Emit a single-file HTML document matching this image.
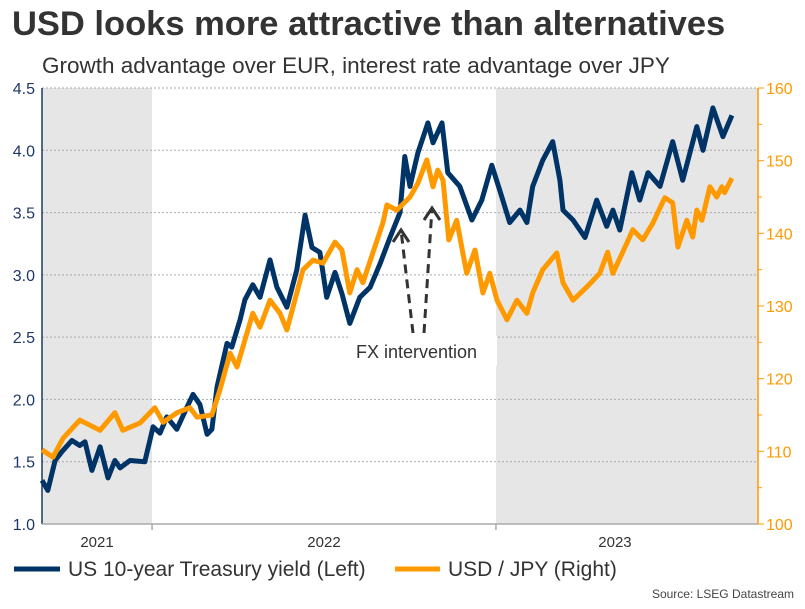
<!DOCTYPE html>
<html><head><meta charset="utf-8"><style>
body{margin:0;background:#fff;font-family:"Liberation Sans",Arial,sans-serif}
svg text{font-family:"Liberation Sans",Arial,sans-serif}
</style></head><body>
<svg id="c" width="805" height="604" xmlns="http://www.w3.org/2000/svg">
<text x="12" y="35" font-size="34.5" font-weight="bold" fill="#333">USD looks more attractive than alternatives</text>
<text x="42" y="73" font-size="22.5" fill="#333">Growth advantage over EUR, interest rate advantage over JPY</text>
<g id="bg"></g><g id="grid"></g><g id="axes"></g><g id="lines"></g><g id="anno"></g>
<g>
<line x1="14" y1="569" x2="60" y2="569" stroke="#003366" stroke-width="5"/>
<text x="68" y="576" font-size="21" fill="#333">US 10-year Treasury yield (Left)</text>
<line x1="395" y1="569" x2="440" y2="569" stroke="#ff9900" stroke-width="5"/>
<text x="448" y="576" font-size="21" fill="#333">USD / JPY (Right)</text>
</g>
<text x="794" y="598" font-size="12" fill="#444" text-anchor="end">Source: LSEG Datastream</text>
</svg>
<script>
const yieldDates=[2021.680,2021.697,2021.718,2021.738,2021.767,2021.790,2021.805,2021.825,2021.849,2021.872,2021.892,2021.907,2021.936,2021.979,2022.003,2022.023,2022.043,2022.072,2022.102,2022.119,2022.139,2022.160,2022.174,2022.189,2022.218,2022.232,2022.256,2022.270,2022.293,2022.314,2022.343,2022.363,2022.392,2022.421,2022.445,2022.465,2022.488,2022.508,2022.532,2022.552,2022.575,2022.604,2022.634,2022.663,2022.692,2022.721,2022.735,2022.750,2022.773,2022.802,2022.817,2022.843,2022.860,2022.895,2022.930,2022.959,2022.988,2023.011,2023.040,2023.070,2023.090,2023.107,2023.136,2023.165,2023.186,2023.195,2023.224,2023.259,2023.293,2023.322,2023.340,2023.360,2023.395,2023.418,2023.442,2023.477,2023.514,2023.543,2023.584,2023.602,2023.631,2023.660,2023.686];
const yieldValues=[1.35,1.27,1.51,1.58,1.67,1.63,1.66,1.43,1.62,1.37,1.51,1.45,1.51,1.50,1.78,1.73,1.86,1.76,1.94,2.04,1.96,1.72,1.76,2.10,2.45,2.42,2.64,2.80,2.92,2.82,3.12,2.90,2.74,3.04,3.48,3.22,3.18,2.82,3.02,2.85,2.61,2.82,2.90,3.09,3.30,3.50,3.95,3.71,3.98,4.22,4.06,4.22,3.82,3.71,3.44,3.60,3.88,3.68,3.42,3.52,3.42,3.71,3.92,4.07,3.76,3.52,3.44,3.30,3.60,3.39,3.52,3.36,3.82,3.60,3.82,3.71,4.07,3.76,4.19,4.00,4.34,4.11,4.28];
const jpyDates=[2021.680,2021.712,2021.741,2021.790,2021.849,2021.892,2021.915,2021.965,2022.008,2022.032,2022.072,2022.110,2022.131,2022.174,2022.197,2022.227,2022.247,2022.276,2022.293,2022.314,2022.343,2022.372,2022.392,2022.421,2022.439,2022.468,2022.497,2022.532,2022.552,2022.575,2022.596,2022.613,2022.642,2022.671,2022.683,2022.712,2022.750,2022.773,2022.799,2022.817,2022.831,2022.846,2022.863,2022.886,2022.915,2022.939,2022.962,2022.982,2023.003,2023.032,2023.061,2023.090,2023.107,2023.136,2023.177,2023.195,2023.224,2023.264,2023.302,2023.325,2023.340,2023.381,2023.398,2023.427,2023.456,2023.491,2023.514,2023.529,2023.555,2023.572,2023.584,2023.599,2023.622,2023.642,2023.657,2023.665,2023.686];
const jpyValues=[110.2,109.2,111.8,114.3,112.9,115.3,112.9,113.9,116.0,114.0,115.3,116.0,114.7,115.0,118.4,123.5,121.6,126.3,129.0,127.1,130.8,129.0,126.7,131.8,135.0,136.3,135.9,138.8,137.7,131.8,135.0,133.2,137.3,141.4,143.9,143.2,145.0,146.9,150.1,146.4,148.7,147.3,139.1,141.8,134.5,137.7,131.8,134.5,130.8,128.1,130.8,129.0,131.8,135.0,137.3,133.2,130.8,132.6,134.5,137.4,134.5,138.7,140.5,139.1,141.4,144.9,144.2,138.1,141.8,139.5,143.2,141.8,146.4,145.0,146.4,145.6,147.6];
const leftTicks=[1.0,1.5,2.0,2.5,3.0,3.5,4.0,4.5];
const rightTicks=[100,110,120,130,140,150,160];
const yearLabels=["2021","2022","2023"];
const yearStarts=[2021,2022,2023,2024];
const L=42,R=758,T=88,B=524,T0=2021.68,T1=2023.762;
const xS=t=>L+(Math.max(t,T0)-T0)/(T1-T0)*(R-L);
const yL=v=>B-(v-1)/(4.5-1)*(B-T);
const yR=v=>B-(v-100)/(160-100)*(B-T);
const NS="http://www.w3.org/2000/svg";
function mk(tag,parent,attrs){const e=document.createElementNS(NS,tag);for(const k in attrs)e.setAttribute(k,attrs[k]);document.getElementById(parent).appendChild(e);return e;}
[[T0,2022],[2023,T1]].forEach(function(p){
 const r=mk('rect','bg',{x:xS(p[0]),y:T,width:xS(p[1])-xS(p[0]),height:B-T,fill:'#e6e6e6'});
 
 
});
leftTicks.forEach(function(v){
 if(v>1){const g=mk('line','grid',{x1:L,x2:R,y1:yL(v),y2:yL(v),stroke:'#aaa','stroke-dasharray':'2,2','stroke-width':1});
 
 }
 const t=mk('text','axes',{x:L-7,y:yL(v)+6,'font-size':16,fill:'#1f3864','text-anchor':'end'});t.textContent=v.toFixed(1);
 
 
});
rightTicks.forEach(function(v){
 const t=mk('text','axes',{x:R+8,y:yR(v)+6,'font-size':16,fill:'#ff9900'});t.textContent=v;
 
 
 mk('line','axes',{x1:R,x2:R+6,y1:yR(v),y2:yR(v),stroke:'#ff9900'});
 if(v<160){mk('line','axes',{x1:R,x2:R+4,y1:yR(v+5),y2:yR(v+5),stroke:'#ff9900'});}
});
let a=mk('line','axes',{x1:L,x2:L,y1:T,y2:B,stroke:'#1f3864','stroke-width':1.5});


a=mk('line','axes',{x1:R,x2:R,y1:T,y2:B,stroke:'#ff9900','stroke-width':1.5});


a=mk('line','axes',{x1:L,x2:R,y1:B,y2:B,stroke:'#aaa','stroke-width':1.5});


[2022,2023].forEach(function(y){mk('line','axes',{x1:xS(y),x2:xS(y),y1:B,y2:B+6,stroke:'#aaa','stroke-width':1.5});});
yearLabels.forEach(function(lbl,i){
 const c=(xS(yearStarts[i])+xS(Math.min(yearStarts[i+1],T1)))/2-(i==2?12:0);
 const t=mk('text','axes',{x:c,y:547,'font-size':15,fill:'#333','text-anchor':'middle'});t.textContent=lbl;
 
 
});
function path(ds,vs,f){return ds.map((d,i)=>(i?'L':'M')+xS(d).toFixed(1)+','+f(vs[i]).toFixed(1)).join('');}
let p=mk('path','lines',{d:path(yieldDates,yieldValues,yL),fill:'none',stroke:'#003366','stroke-width':5,'stroke-linejoin':'round'});


p=mk('path','lines',{d:path(jpyDates,jpyValues,yR),fill:'none',stroke:'#ff9900','stroke-width':5,'stroke-linejoin':'round'});


p=mk('rect','anno',{x:350,y:336,width:147,height:30,fill:'#fff'});


p=mk('text','anno',{x:356,y:358,'font-size':18,fill:'#333'});p.textContent='FX intervention';


[[413,333,401,230],[424,333,432,208]].forEach(function(q){
 const l=mk('line','anno',{x1:q[0],y1:q[1],x2:q[2],y2:q[3],stroke:'#333','stroke-width':3,'stroke-dasharray':'9,6'});
 
 
 mk('path','anno',{d:'M'+(q[2]-8)+','+(q[3]+12)+'L'+q[2]+','+q[3]+'L'+(q[2]+8)+','+(q[3]+12),fill:'none',stroke:'#333','stroke-width':3});
});
</script>
</body></html>
